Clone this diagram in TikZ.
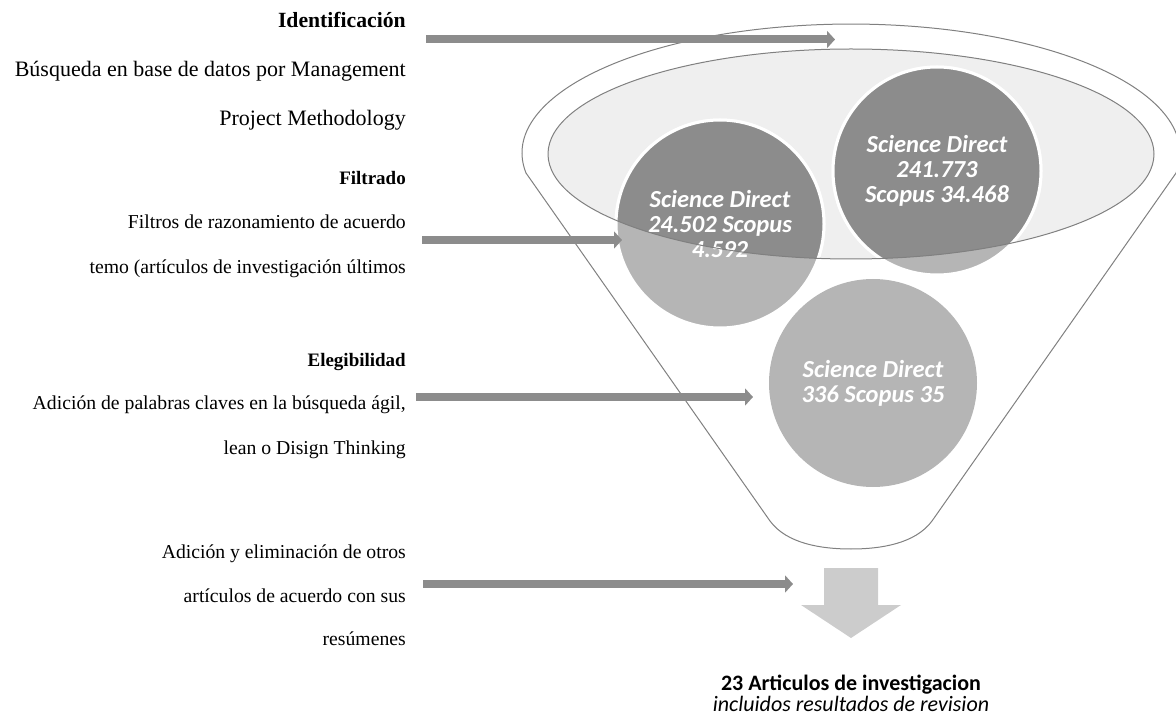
\documentclass[tikz,border=0pt]{standalone}
\usepackage{fontspec}
\setmainfont{Liberation Serif}
\newfontfamily\calib{Carlito}
\usetikzlibrary{arrows.meta}
\definecolor{arrowgray}{HTML}{8C8C8C}
\definecolor{lightc}{HTML}{B5B5B5}
\definecolor{darkc}{HTML}{8C8C8C}
\definecolor{ellfill}{HTML}{EFEFEF}
\definecolor{outline}{HTML}{808080}
\definecolor{downc}{HTML}{CCCCCC}
\begin{document}
\begin{tikzpicture}[x=1pt,y=1pt,
  bigtxt/.style={anchor=base east, inner sep=0pt, font=\fontsize{22}{26}\selectfont},
  bigbold/.style={anchor=base east, inner sep=0pt, font=\fontsize{21.7}{26}\selectfont\bfseries},
  smalltxt/.style={anchor=base east, inner sep=0pt, font=\fontsize{19.7}{24}\selectfont},
  smallbold/.style={anchor=base east, inner sep=0pt, font=\fontsize{19}{23}\selectfont\bfseries},
  garrow/.style={draw=arrowgray, line width=8pt, -{Triangle[length=8pt,width=17pt]}},
  bubble/.style={circle, minimum size=208pt, inner sep=0pt},
  bubtxt/.style={align=center, text=white, inner sep=0pt, font=\calib\bfseries\itshape\fontsize{24.5}{25}\selectfont}
]
\useasboundingbox (0,0) rectangle (1176,716);

% left texts
\node[bigbold]  (l1)  at (406,688)   {Identificación};
\node[bigtxt]   (l2)  at (406,639)   {Búsqueda en base de datos por Management};
\node[bigtxt]   (l3)  at (406,590)   {Project Methodology};
\node[smallbold](l4)  at (406,531.5) {Filtrado};
\node[smalltxt] (l5)  at (406,487.5) {Filtros de razonamiento de acuerdo};
\node[smalltxt] (l6)  at (406,442.5) {temo (artículos de investigación últimos};
\node[smallbold](l7)  at (406,349.5) {Elegibilidad};
\node[smalltxt] (l8)  at (406,306.5) {Adición de palabras claves en la búsqueda ágil,};
\node[smalltxt] (l9)  at (406,261.5) {lean o Disign Thinking};
\node[smalltxt] (l10) at (406,157.5) {Adición y eliminación de otros};
\node[smalltxt] (l11) at (406,113.5) {artículos de acuerdo con sus};
\node[smalltxt] (l12) at (406,70.5)  {resúmenes};

% funnel outline
\draw[outline, line width=1pt] (526,543) arc[start angle=188.9, end angle=-8.9, x radius=329, y radius=129]
  -- (932,195) .. controls (915,172) and (880,167) .. (851,167)
  .. controls (822,167) and (787,172) .. (770,195) -- cycle;

% inner ellipse fill
\fill[ellfill] (851,562) ellipse[x radius=303, y radius=105];

% circles (light)
\node[bubble, fill=lightc, draw=white, line width=3pt] (c1) at (720,492) {};
\node[bubble, fill=lightc, draw=white, line width=3pt] (c2) at (937,545) {};
\node[bubble, fill=lightc] (c3) at (873,333) {};

% dark part inside ellipse
\begin{scope}
  \clip (851,562) ellipse[x radius=303, y radius=105];
  \fill[darkc, draw=white, line width=3pt] (c1.center) circle[radius=104];
  \fill[darkc, draw=white, line width=3pt] (c2.center) circle[radius=104];
\end{scope}

% circle texts
\node[bubtxt] (t1) at (c1.center) {Science Direct\\24.502 Scopus\\4.592};
\node[bubtxt] (t2) at (c2.center) {Science Direct\\241.773\\Scopus 34.468};
\node[bubtxt] (t3) at (c3.center) {Science Direct\\336 Scopus 35};

% inner ellipse outline
\draw[outline, line width=1pt] (851,562) ellipse[x radius=303, y radius=105];

% arrows
\coordinate (a1s) at (426,676.5); \coordinate (a1e) at (835,676.5);
\coordinate (a2s) at (422,476);   \coordinate (a2e) at (622,476);
\coordinate (a3s) at (416,319);   \coordinate (a3e) at (753,319);
\coordinate (a4s) at (423,132);   \coordinate (a4e) at (793,132);
\draw[garrow] (a1s) -- (a1e);
\draw[garrow] (a2s) -- (a2e);
\draw[garrow] (a3s) -- (a3e);
\draw[garrow] (a4s) -- (a4e);

% down arrow
\fill[downc] (824,148) -- (878,148) -- (878,111) -- (901,111) -- (851,78) -- (801,111) -- (824,111) -- cycle;

% result text
\node[anchor=base, inner sep=0pt, font=\calib\bfseries\fontsize{22}{19}\selectfont] (r1) at (851,26) {23 Articulos de investigacion};
\node[anchor=base, inner sep=0pt, font=\calib\itshape\fontsize{22}{19}\selectfont] (r2) at (851,5) {incluidos resultados de revision};
\end{tikzpicture}
\end{document}
